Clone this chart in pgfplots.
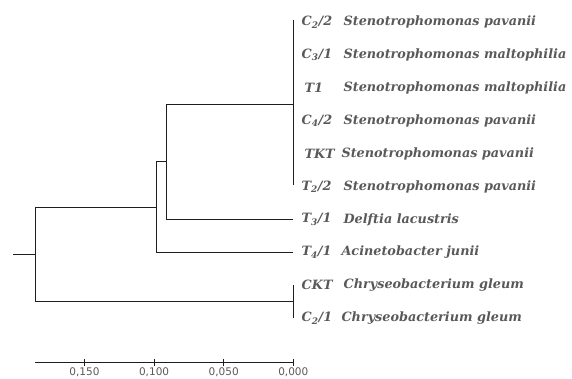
\documentclass[border=0pt]{standalone}
\usepackage{fontspec}
\setmainfont{DejaVu Serif}
\newfontfamily\tickfont{DejaVu Sans}
\usepackage{pgfplots}
\pgfplotsset{compat=1.18}
\definecolor{lbl}{HTML}{595959}
\definecolor{ln}{HTML}{1E1E1E}
\begin{document}
\begin{tikzpicture}
\begin{axis}[
  scale only axis, width=572pt, height=379pt,
  xmin=-0.2002, xmax=0.2107, ymin=0.331, ymax=11.85,
  x dir=reverse, y dir=reverse,
  hide axis, clip=false,
]
\path (rel axis cs:0,0) (rel axis cs:1,1);
% dendrogram branches
\pgfplotsset{br/.style={ln, line width=0.9pt, mark=none, forget plot}}
\addplot[br] coordinates {(0,0.95) (0,5.95)};
\addplot[br] coordinates {(0,3.5) (0.0914,3.5)};
\addplot[br] coordinates {(0,7) (0.0914,7)};
\addplot[br] coordinates {(0.0914,3.5) (0.0914,7)};
\addplot[br] coordinates {(0.0914,5.25) (0.0986,5.25)};
\addplot[br] coordinates {(0,8) (0.0986,8)};
\addplot[br] coordinates {(0.0986,5.25) (0.0986,8)};
\addplot[br] coordinates {(0.0986,6.625) (0.1855,6.625)};
\addplot[br] coordinates {(0,9.0) (0,10.0)};
\addplot[br] coordinates {(0,9.5) (0.1855,9.5)};
\addplot[br] coordinates {(0.1855,6.625) (0.1855,9.5)};
\addplot[br] coordinates {(0.1855,8.0625) (0.2016,8.0625)};
% scale bar
\addplot[ln, line width=0.8pt, mark=none] coordinates {(0,11.356) (0.1855,11.356)};
\addplot[only marks, mark=|, mark size=3.3pt, mark options={ln, line width=0.8pt},
  point meta=explicit symbolic, nodes near coords,
  every node near coord/.style={anchor=north, yshift=-3.5pt, inner sep=1pt, text=lbl, font=\tickfont\fontsize{10.5}{12}\selectfont}]
  coordinates {(0.15,11.356) [0,150] (0.10,11.356) [0,100] (0.05,11.356) [0,050] (0,11.356) [0,000]};
% codes
\addplot[only marks, mark=none, draw=none,
  point meta=explicit symbolic, nodes near coords,
  every node near coord/.style={anchor=west, inner sep=0pt, text=lbl, font=\bfseries\itshape\fontsize{12.8}{15}\selectfont}]
  coordinates {
  (-0.0059,1) [{C\textsubscript{2}/2}]
  (-0.0059,2) [{C\textsubscript{3}/1}]
  (-0.0079,3) [{T1}]
  (-0.0059,4) [{C\textsubscript{4}/2}]
  (-0.0079,5) [{TKT}]
  (-0.0059,6) [{T\textsubscript{2}/2}]
  (-0.0059,7) [{T\textsubscript{3}/1}]
  (-0.0059,8) [{T\textsubscript{4}/1}]
  (-0.0059,9) [{CKT}]
  (-0.0059,10) [{C\textsubscript{2}/1}]
  };
% species
\addplot[only marks, mark=none, draw=none,
  point meta=explicit symbolic, nodes near coords,
  every node near coord/.style={anchor=west, inner sep=0pt, text=lbl, font=\bfseries\itshape\fontsize{12.8}{15}\selectfont}]
  coordinates {
  (-0.0360,1) [{Stenotrophomonas pavanii}]
  (-0.0360,2) [{Stenotrophomonas maltophilia}]
  (-0.0360,3) [{Stenotrophomonas maltophilia}]
  (-0.0360,4) [{Stenotrophomonas pavanii}]
  (-0.0345,5) [{Stenotrophomonas pavanii}]
  (-0.0360,6) [{Stenotrophomonas pavanii}]
  (-0.0360,7) [{Delftia lacustris}]
  (-0.0345,8) [{Acinetobacter junii}]
  (-0.0360,9) [{Chryseobacterium gleum}]
  (-0.0345,10) [{Chryseobacterium gleum}]
  };
\end{axis}
\end{tikzpicture}
\end{document}
